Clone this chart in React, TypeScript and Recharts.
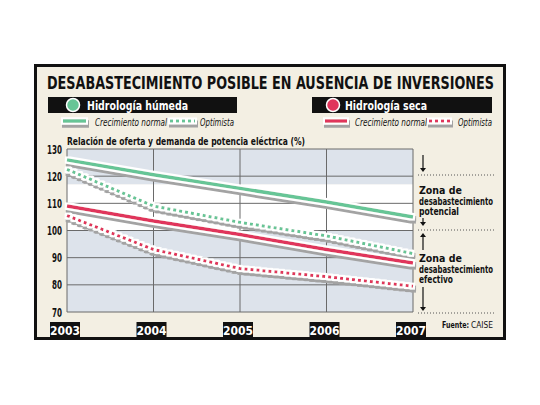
import { LineChart, Line, XAxis, YAxis, ReferenceArea, ReferenceLine } from 'recharts';

const YEARS = ['2003', '2004', '2005', '2006', '2007'];
const HUMEDA_NORMAL = [126, 120.5, 115.5, 110.5, 105];
const HUMEDA_OPTIMISTA = [122.5, 109, 103, 98, 91.5];
const SECA_NORMAL = [109, 103.5, 98.5, 93, 88];
const SECA_OPTIMISTA = [105.5, 93, 86, 83, 79.5];
const Y_TICKS = [70, 80, 90, 100, 110, 120, 130];
const BAND_LOW = [70, 100];
const BAND_WHITE = [100, 117];
const BAND_HIGH = [117, 130];

const data = YEARS.map((year, i) => ({
  year,
  hn: HUMEDA_NORMAL[i],
  ho: HUMEDA_OPTIMISTA[i],
  sn: SECA_NORMAL[i],
  so: SECA_OPTIMISTA[i],
}));

const GREEN = '#66c596';
const RED = '#e0355b';
const PLOT_BG = '#dde3eb';
const CREAM = '#f3efe3';
const GRID = '#6a6a6a';
const FONT = "'DejaVu Sans Condensed', 'Liberation Sans Narrow', 'Liberation Sans', sans-serif";

const YearTick = ({ x, y, payload }: any) => (
  <g>
    <rect x={x - 17} y={y + 10} width={30} height={16} fill="#111" />
    <text x={x - 2} y={y + 22.5} textAnchor="middle" fill="#fff" fontFamily={FONT} fontWeight="bold" fontSize={12}>
      {payload.value}
    </text>
  </g>
);

const ValueTick = ({ x, y, payload }: any) => {
  const label = String(payload.value);
  return (
    <text
      x={x - label.length * 5}
      y={y + 4.5}
      fill="#111"
      fontFamily={FONT}
      fontWeight="bold"
      fontSize={12.5}
      textLength={label.length * 5}
      lengthAdjust="spacingAndGlyphs"
    >
      {label}
    </text>
  );
};

const Arrow = ({ x, y1, y2 }: { x: number; y1: number; y2: number }) => {
  const d = y2 > y1 ? 1 : -1;
  return (
    <g>
      <line x1={x} y1={y1} x2={x} y2={y2 - d * 3} stroke="#111" strokeWidth={1.2} />
      <path d={`M${x - 3},${y2 - d * 4} L${x + 3},${y2 - d * 4} L${x},${y2} Z`} fill="#111" />
    </g>
  );
};

function Decor() {
  const zoneText = { fontFamily: FONT, fontWeight: 'bold' as const, fontSize: 10.5, fill: '#111' };
  const legendText = { fontFamily: FONT, fontStyle: 'italic' as const, fontSize: 10, fill: '#111' };
  return (
    <svg width={540} height={405} style={{ position: 'absolute', left: 0, top: 0 }}>
      <defs>
        <filter id="sh" filterUnits="userSpaceOnUse" x="0" y="0" width="540" height="405">
          <feMorphology in="SourceAlpha" operator="dilate" radius="1.5" result="outline" />
          <feFlood floodColor="#ffffff" result="white" />
          <feComposite in="white" in2="outline" operator="in" result="halo" />
          <feMorphology in="SourceAlpha" operator="dilate" radius="1.8" result="thick" />
          <feOffset in="thick" dx="1" dy="3" result="moved" />
          <feFlood floodColor="#a3a3a3" result="grey" />
          <feComposite in="grey" in2="moved" operator="in" result="shadow" />
          <feMerge>
            <feMergeNode in="shadow" />
            <feMergeNode in="halo" />
            <feMergeNode in="SourceGraphic" />
          </feMerge>
        </filter>
      </defs>
      <rect x={0} y={0} width={540} height={405} fill="#fff" />
      <rect x={35.5} y={65.5} width={469} height={273} fill={CREAM} stroke="#111" strokeWidth={3} />
      <text x={47} y={89} fontFamily={FONT} fontWeight="bold" fontSize={17} fill="#111" textLength={447} lengthAdjust="spacingAndGlyphs">
        DESABASTECIMIENTO POSIBLE EN AUSENCIA DE INVERSIONES
      </text>

      {/* cabeceras de leyenda */}
      <rect x={48} y={97} width={189} height={16} fill="#111" />
      <circle cx={73} cy={105} r={6.5} fill={GREEN} stroke="#fff" strokeWidth={1.5} />
      <text x={87} y={110} fontFamily={FONT} fontWeight="bold" fontSize={13} fill="#fff" textLength={101} lengthAdjust="spacingAndGlyphs">
        Hidrología húmeda
      </text>
      <rect x={312} y={97} width={180} height={16} fill="#111" />
      <circle cx={333} cy={105} r={6.5} fill={RED} stroke="#fff" strokeWidth={1.5} />
      <text x={345} y={110} fontFamily={FONT} fontWeight="bold" fontSize={13} fill="#fff" textLength={82} lengthAdjust="spacingAndGlyphs">
        Hidrología seca
      </text>

      {/* muestras de linea */}
      <line x1={63} y1={121} x2={86} y2={121} stroke={GREEN} strokeWidth={3.5} filter="url(#sh)" />
      <text x={95} y={126} {...legendText} textLength={72} lengthAdjust="spacingAndGlyphs">Crecimiento normal</text>
      <line x1={170} y1={121} x2={195} y2={121} stroke={GREEN} strokeWidth={3} strokeDasharray="3 3" filter="url(#sh)" />
      <text x={200} y={126} {...legendText} textLength={34} lengthAdjust="spacingAndGlyphs">Optimista</text>
      <line x1={325} y1={121} x2={347} y2={121} stroke={RED} strokeWidth={3.5} filter="url(#sh)" />
      <text x={355} y={126} {...legendText} textLength={72} lengthAdjust="spacingAndGlyphs">Crecimiento normal</text>
      <line x1={429} y1={121} x2={450} y2={121} stroke={RED} strokeWidth={3} strokeDasharray="3 3" filter="url(#sh)" />
      <text x={458} y={126} {...legendText} textLength={34} lengthAdjust="spacingAndGlyphs">Optimista</text>

      <text x={67} y={145} fontFamily={FONT} fontWeight="bold" fontSize={11} fill="#111" textLength={238} lengthAdjust="spacingAndGlyphs">
        Relación de oferta y demanda de potencia eléctrica (%)
      </text>

      {/* zonas */}
      <Arrow x={423} y1={155} y2={172} />
      <line x1={418} y1={175} x2={494} y2={175} stroke="#555" strokeWidth={1} strokeDasharray="1 2" />
      <text x={419} y={194} {...zoneText} textLength={43} lengthAdjust="spacingAndGlyphs">Zona de</text>
      <text x={419} y={204.5} {...zoneText} textLength={74} lengthAdjust="spacingAndGlyphs">desabastecimiento</text>
      <text x={419} y={215} {...zoneText} textLength={40} lengthAdjust="spacingAndGlyphs">potencial</text>
      <Arrow x={423} y1={218} y2={226} />
      <line x1={418} y1={230} x2={494} y2={230} stroke="#555" strokeWidth={1} strokeDasharray="1 2" />
      <Arrow x={423} y1={250} y2={233} />
      <text x={419} y={262} {...zoneText} textLength={43} lengthAdjust="spacingAndGlyphs">Zona de</text>
      <text x={419} y={272.5} {...zoneText} textLength={74} lengthAdjust="spacingAndGlyphs">desabastecimiento</text>
      <text x={419} y={283} {...zoneText} textLength={34} lengthAdjust="spacingAndGlyphs">efectivo</text>
      <Arrow x={423} y1={287} y2={311} />
      <line x1={418} y1={313} x2={494} y2={313} stroke="#555" strokeWidth={1} strokeDasharray="1 2" />

      <text x={442} y={328} fontFamily={FONT} fontSize={9} fill="#111" fontWeight="bold" textLength={27} lengthAdjust="spacingAndGlyphs">
        Fuente:
      </text>
      <text x={471} y={328} fontFamily={FONT} fontSize={9} fill="#111" textLength={22} lengthAdjust="spacingAndGlyphs">
        CAISE
      </text>
    </svg>
  );
}

export default function App() {
  return (
    <div style={{ position: 'absolute', left: 0, top: 0, width: 540, height: 405 }}>
      <Decor />
      <div style={{ position: 'absolute', left: 0, top: 0 }}>
        <LineChart width={540} height={405} data={data} margin={{ top: 149, right: 127, bottom: 63, left: 37 }}>
          <ReferenceArea y1={BAND_LOW[0]} y2={BAND_LOW[1]} fill={PLOT_BG} fillOpacity={1} stroke="none" />
          <ReferenceArea y1={BAND_WHITE[0]} y2={BAND_WHITE[1]} fill="#fff" fillOpacity={1} stroke="none" />
          <ReferenceArea y1={BAND_HIGH[0]} y2={BAND_HIGH[1]} fill={PLOT_BG} fillOpacity={1} stroke="none" />
          {Y_TICKS.map((v) => (
            <ReferenceLine key={`h${v}`} y={v} stroke={GRID} strokeWidth={1} />
          ))}
          {YEARS.map((v) => (
            <ReferenceLine key={`v${v}`} x={v} stroke={GRID} strokeWidth={1} />
          ))}
          <XAxis
            dataKey="year"
            scale="point"
            padding={{ left: 0, right: 0 }}
            height={30}
            axisLine={false}
            tickLine={false}
            tickSize={0}
            tickMargin={0}
            tick={<YearTick />}
          />
          <YAxis
            type="number"
            domain={[70, 130]}
            ticks={Y_TICKS}
            interval={0}
            width={30}
            axisLine={false}
            tickLine={false}
            tickSize={0}
            tickMargin={5}
            tick={<ValueTick />}
          />
          <Line dataKey="hn" stroke={GREEN} strokeWidth={3.5} dot={false} filter="url(#sh)" isAnimationActive={false} />
          <Line dataKey="ho" stroke={GREEN} strokeWidth={3} strokeDasharray="3 3" dot={false} filter="url(#sh)" isAnimationActive={false} />
          <Line dataKey="sn" stroke={RED} strokeWidth={3.5} dot={false} filter="url(#sh)" isAnimationActive={false} />
          <Line dataKey="so" stroke={RED} strokeWidth={3} strokeDasharray="3 3" dot={false} filter="url(#sh)" isAnimationActive={false} />
        </LineChart>
      </div>
    </div>
  );
}
